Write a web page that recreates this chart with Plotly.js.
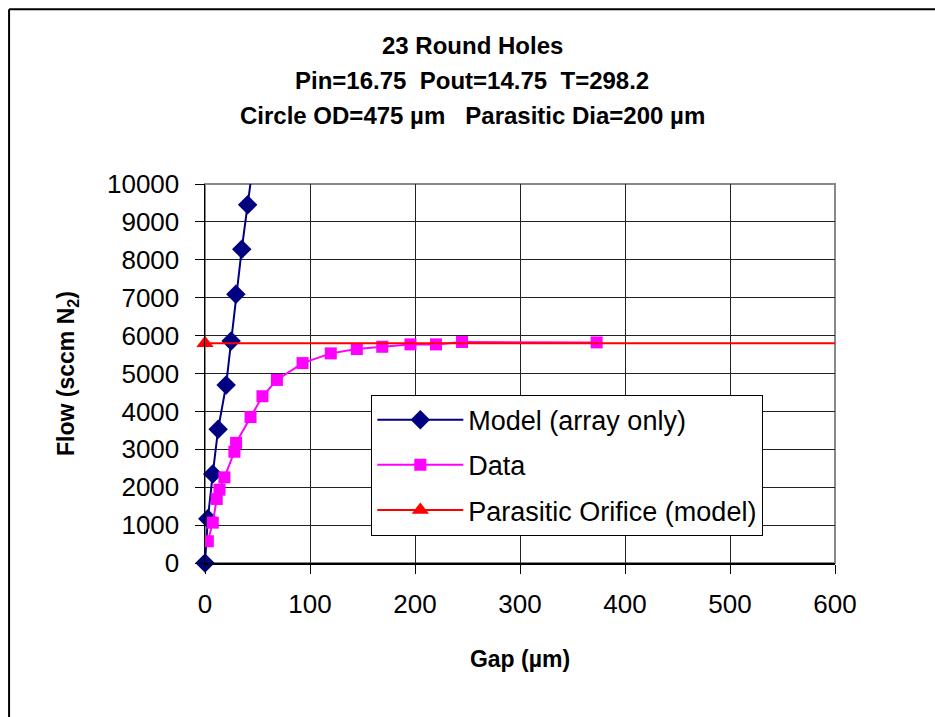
<!DOCTYPE html>
<html>
<head>
<meta charset="utf-8">
<script src="https://cdn.plot.ly/plotly-3.0.1.min.js"></script>
<style>
html,body{margin:0;padding:0;background:#fff;}
#chart{width:935px;height:717px;}
</style>
</head>
<body>
<div id="chart"></div>
<script>
// Model (array only)
const modelGap = [0, 2.7, 7.4, 12.5, 20.1, 24.9, 29.4, 35.0, 40.6, 46.2];
const modelFlow = [0, 1165, 2350, 3530, 4695, 5860, 7090, 8280, 9450, 10620];
// Data
const dataGap = [2.7, 7.4, 11.2, 13.8, 18.5, 28.0, 29.6, 43.4, 54.7, 68.5, 92.9, 119.8, 144.6, 168.8, 195.7, 220.0, 244.8, 373.0];
const dataFlow = [574, 1065, 1690, 1934, 2260, 2935, 3170, 3850, 4400, 4830, 5275, 5531, 5645, 5705, 5768, 5768, 5830, 5820];
// Parasitic orifice (model)
const orificeGap = [0, 610];
const orificeFlow = [5800, 5800];

const titleLines = ['23 Round Holes', 'Pin=16.75\u00a0\u00a0Pout=14.75\u00a0\u00a0T=298.2', 'Circle OD=475 µm\u00a0\u00a0 Parasitic Dia=200 µm'];
const xTicks = [0, 100, 200, 300, 400, 500, 600];
const yTicks = [0, 1000, 2000, 3000, 4000, 5000, 6000, 7000, 8000, 9000, 10000];

const FONT = 'Liberation Sans, Arial, sans-serif';
const NAVY = '#000080', MAG = '#FF00FF', RED = '#FF0000', CLEAR = 'rgba(0,0,0,0)';

const traces = [
  {x: modelGap, y: modelFlow, name: 'Model (array only)', mode: 'lines+markers', legendgroup: 'a', cliponaxis: false,
   line: {color: NAVY, width: 2},
   marker: {symbol: 'diamond', size: 15, color: modelGap.map((v, i) => modelFlow[i] > 10000 ? CLEAR : NAVY)}},
  {x: dataGap, y: dataFlow, name: 'Data', mode: 'lines+markers', legendgroup: 'b',
   line: {color: MAG, width: 2}, marker: {symbol: 'square', size: 12, color: MAG}},
  {x: orificeGap, y: orificeFlow, name: 'Parasitic Orifice (model)', mode: 'lines+markers', legendgroup: 'c', cliponaxis: false,
   line: {color: RED, width: 2}, marker: {symbol: 'triangle-up', size: 15, color: orificeGap.map(v => v > 600 ? CLEAR : RED)}}
];

const annotations = titleLines.map((t, i) => ({
  text: '<b>' + t + '</b>', xref: 'paper', yref: 'paper', x: 0.424, y: [1.366, 1.274, 1.182][i],
  showarrow: false, xanchor: 'center', yanchor: 'middle', font: {family: FONT, size: 24, color: '#000'}
}));

const layout = {
  width: 935, height: 717,
  margin: {l: 205, r: 99.5, t: 184, b: 153.5},
  paper_bgcolor: '#fff', plot_bgcolor: '#fff',
  showlegend: true,
  legend: {x: 0.264, y: 0.444, xanchor: 'left', yanchor: 'top', bgcolor: '#fff',
           bordercolor: '#000', borderwidth: 1, font: {family: FONT, size: 27, color: '#000'},
           traceorder: 'grouped', tracegroupgap: 7, itemwidth: 86},
  xaxis: {range: [0, 600], tickvals: xTicks, ticktext: xTicks.map(String), showgrid: true, gridcolor: '#222', gridwidth: 1,
          ticks: 'outside', ticklen: 9, tickcolor: '#000', showline: true, linecolor: '#000', linewidth: 1.5,
          zeroline: false, tickfont: {family: FONT, size: 26, color: '#000'}, ticklabelstandoff: 8,
          title: {text: '<b>Gap (µm)</b>', font: {family: FONT, size: 23, color: '#000'}, standoff: 33}},
  yaxis: {range: [0, 10000], tickvals: yTicks, ticktext: yTicks.map(String), showgrid: true, gridcolor: '#222', gridwidth: 1,
          ticks: 'outside', ticklen: 9, tickcolor: '#000', showline: true, linecolor: '#000', linewidth: 1.5,
          zeroline: false, tickfont: {family: FONT, size: 26, color: '#000'}, ticklabelstandoff: 10,
          title: {text: '<b>Flow (sccm N<sub>2</sub>)</b>', font: {family: FONT, size: 23, color: '#000'}, standoff: 26}},
  annotations: annotations,
  shapes: [
    {type: 'rect', xref: 'paper', yref: 'paper', x0: 0, x1: 1, y0: 0, y1: 1, line: {color: '#888', width: 2}, layer: 'below'},
    {type: 'line', xref: 'paper', yref: 'paper', x0: -0.311, x1: -0.311, y0: -0.5, y1: 1.461, line: {color: '#000', width: 2}},
    {type: 'line', xref: 'paper', yref: 'paper', x0: -0.311, x1: 1.2, y0: 1.461, y1: 1.461, line: {color: '#000', width: 2}}
  ]
};

Plotly.newPlot('chart', traces, layout, {displayModeBar: false, staticPlot: true});
</script>
</body>
</html>
